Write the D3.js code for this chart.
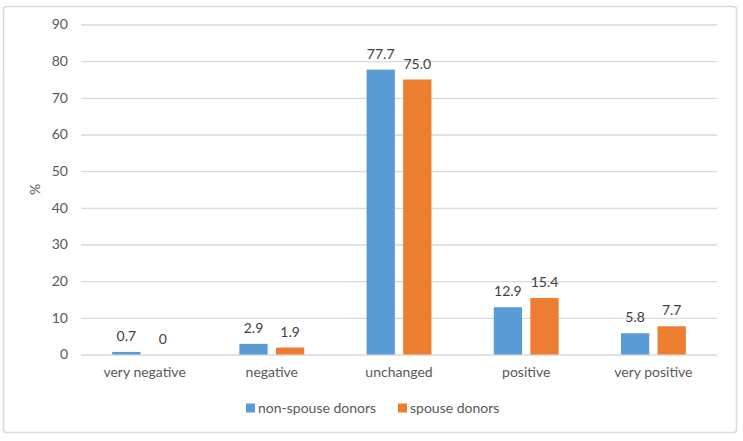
<!DOCTYPE html>
<html><head><meta charset="utf-8">
<script src="https://cdn.jsdelivr.net/npm/d3@7"></script>
<style>body{margin:0;background:#fff}svg{display:block}text{font-family:Lato,"Open Sans",sans-serif}</style>
</head><body><svg id="c" width="743" height="441"></svg>
<script>
const categories = ["very negative","negative","unchanged","positive","very positive"];
const seriesNames = ["non-spouse donors","spouse donors"];
const nonSpouse = [0.7, 2.9, 77.7, 12.9, 5.8];
const spouse = [0, 1.9, 75.0, 15.4, 7.7];
const labelsNonSpouse = ["0.7","2.9","77.7","12.9","5.8"];
const labelsSpouse = ["0","1.9","75.0","15.4","7.7"];
const yTicks = [0,10,20,30,40,50,60,70,80,90];
const colors = ["#5B9BD5","#ED7D31"];
const fs = "14px";

const svg = d3.select("#c");
svg.append("rect").attr("x",3.5).attr("y",6.5).attr("width",733).attr("height",426)
  .attr("rx",3).attr("fill","#fff").attr("stroke","#d9d9d9").attr("stroke-width",1.5);

const pL=81, pR=717, pT=24.5, pB=354.5;
const y = d3.scaleLinear().domain([0,90]).range([pB,pT]);
const x0 = d3.scaleBand().domain(categories).range([pL,pR]).paddingInner(0.49).paddingOuter(0.245);
const x1 = d3.scaleBand().domain(seriesNames).range([0,x0.bandwidth()]).paddingInner(0.227);

const yAxis = svg.append("g").attr("transform",`translate(${pL},0)`)
  .call(d3.axisLeft(y).tickValues(yTicks).tickSize(-(pR-pL)).tickPadding(13));
yAxis.select(".domain").remove();
yAxis.selectAll("line").attr("stroke","#d9d9d9").attr("stroke-width",1.3);
yAxis.selectAll("text").attr("fill","#595959").style("font-size",fs);

const xAxis = svg.append("g").attr("transform",`translate(0,${pB})`)
  .call(d3.axisBottom(x0).tickSize(0).tickPadding(13));
xAxis.select(".domain").remove();
xAxis.selectAll("text").attr("fill","#595959").style("font-size",fs);

svg.append("text").attr("transform",`translate(40,${y(45)}) rotate(-90)`)
  .attr("text-anchor","middle").attr("fill","#595959").style("font-size",fs).text("%");

const data = [nonSpouse, spouse];
const labs = [labelsNonSpouse, labelsSpouse];
data.forEach((vals,si)=>{
  const g = svg.append("g");
  g.selectAll("rect").data(vals).join("rect")
    .attr("x",(d,i)=>x0(categories[i])+x1(seriesNames[si]))
    .attr("y",d=>y(d)).attr("width",x1.bandwidth()).attr("height",d=>pB-y(d))
    .attr("fill",colors[si]);
  g.selectAll("text").data(vals).join("text")
    .attr("x",(d,i)=>x0(categories[i])+x1(seriesNames[si])+x1.bandwidth()/2)
    .attr("y",d=>y(d)-11).attr("text-anchor","middle").attr("fill","#404040")
    .style("font-size",fs).text((d,i)=>labs[si][i]);
});

const legend = svg.append("g").attr("transform","translate(0,408)");
const lx = [246, 398];
seriesNames.forEach((s,i)=>{
  legend.append("rect").attr("x",lx[i]).attr("y",-4.5).attr("width",9).attr("height",9).attr("fill",colors[i]);
  legend.append("text").attr("x",lx[i]+12).attr("y",5).attr("fill","#595959").style("font-size",fs).text(s);
});
</script></body></html>
